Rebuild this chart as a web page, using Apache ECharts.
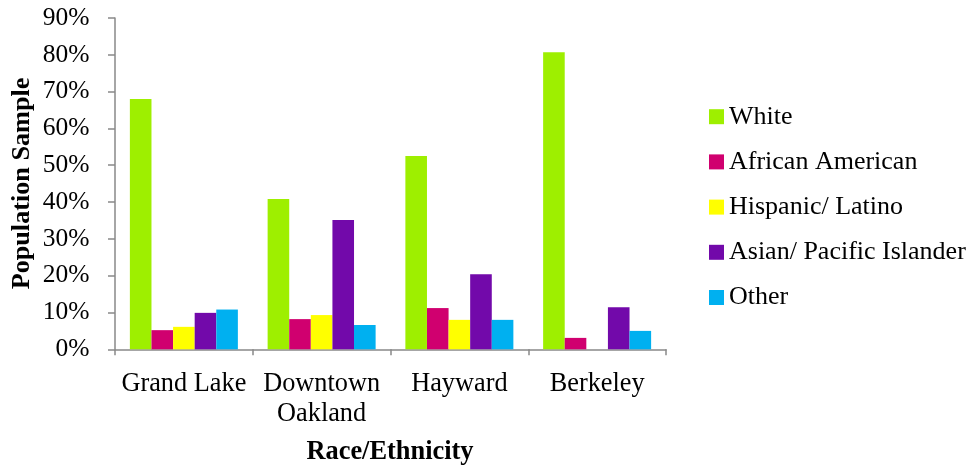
<!DOCTYPE html>
<html>
<head>
<meta charset="utf-8">
<script src="https://cdn.jsdelivr.net/npm/echarts@6/dist/echarts.min.js"></script>
<style>
  html, body { margin: 0; padding: 0; background: #fff; }
  #chart { width: 975px; height: 465px; }
</style>
</head>
<body>
<div id="chart"></div>
<script>
// Survey sites and share of each race/ethnicity group (percent)
const sites = ['Grand Lake', 'Downtown\nOakland', 'Hayward', 'Berkeley'];
const groupNames = ['White', 'African American', 'Hispanic/ Latino', 'Asian/ Pacific Islander', 'Other'];
const white = [68.0, 40.8, 52.5, 80.7];
const africanAmerican = [5.2, 8.2, 11.2, 3.1];
const hispanicLatino = [6.1, 9.3, 8.0, 0];
const asianPacific = [9.9, 35.1, 20.4, 11.4];
const other = [10.8, 6.6, 8.0, 5.0];
const yTicks = [0, 10, 20, 30, 40, 50, 60, 70, 80, 90];

const groupValues = [white, africanAmerican, hispanicLatino, asianPacific, other];
const groupColors = ['#9EEF00', '#D0006F', '#FFFF00', '#7209AA', '#00B0F0'];

const serif = '"Liberation Serif", "Times New Roman", serif';
const axisGray = '#898989';

const chart = echarts.init(document.getElementById('chart'), null, { renderer: 'canvas' });

chart.setOption({
  animation: false,
  backgroundColor: '#ffffff',
  textStyle: { fontFamily: serif, color: '#000' },
  grid: { left: 115, right: 309, top: 18, bottom: 115.7, containLabel: false },
  legend: {
    orient: 'vertical',
    left: 709,
    top: 102.7,
    padding: 0,
    itemWidth: 15,
    itemHeight: 15,
    itemGap: 17.2,
    icon: 'rect',
    textStyle: { fontFamily: serif, fontSize: 26, color: '#000', lineHeight: 28 },
    data: groupNames
  },
  xAxis: {
    type: 'category',
    data: sites,
    axisLine: { lineStyle: { color: axisGray, width: 1.5 } },
    axisTick: { show: true, length: 6, alignWithLabel: false, lineStyle: { color: axisGray, width: 1.5 } },
    axisLabel: { fontFamily: serif, fontSize: 26.3, color: '#000', margin: 19.5, lineHeight: 30, interval: 0 },
    splitLine: { show: false }
  },
  yAxis: {
    type: 'value',
    min: yTicks[0],
    max: yTicks[yTicks.length - 1],
    interval: yTicks[1] - yTicks[0],
    axisLine: { show: true, lineStyle: { color: axisGray, width: 1.5 } },
    axisTick: { show: true, length: 7, inside: false, lineStyle: { color: axisGray, width: 1.5 } },
    axisLabel: { fontFamily: serif, fontSize: 25.5, color: '#000', margin: 25.5, formatter: v => v + '%' },
    splitLine: { show: false }
  },
  graphic: [
    {
      type: 'text',
      x: 22.5,
      y: 183.5,
      rotation: Math.PI / 2,
      style: {
        text: 'Population Sample',
        font: 'bold 26.2px ' + serif,
        fill: '#000',
        align: 'center',
        verticalAlign: 'middle'
      }
    },
    {
      type: 'text',
      x: 390,
      y: 452,
      style: {
        text: 'Race/Ethnicity',
        font: 'bold 26.4px ' + serif,
        fill: '#000',
        align: 'center',
        verticalAlign: 'middle'
      }
    }
  ],
  series: groupNames.map((name, i) => ({
    name: name,
    type: 'bar',
    data: groupValues[i],
    barGap: '0%',
    barCategoryGap: '21.6%',
    itemStyle: { color: groupColors[i] }
  }))
});
</script>
</body>
</html>
